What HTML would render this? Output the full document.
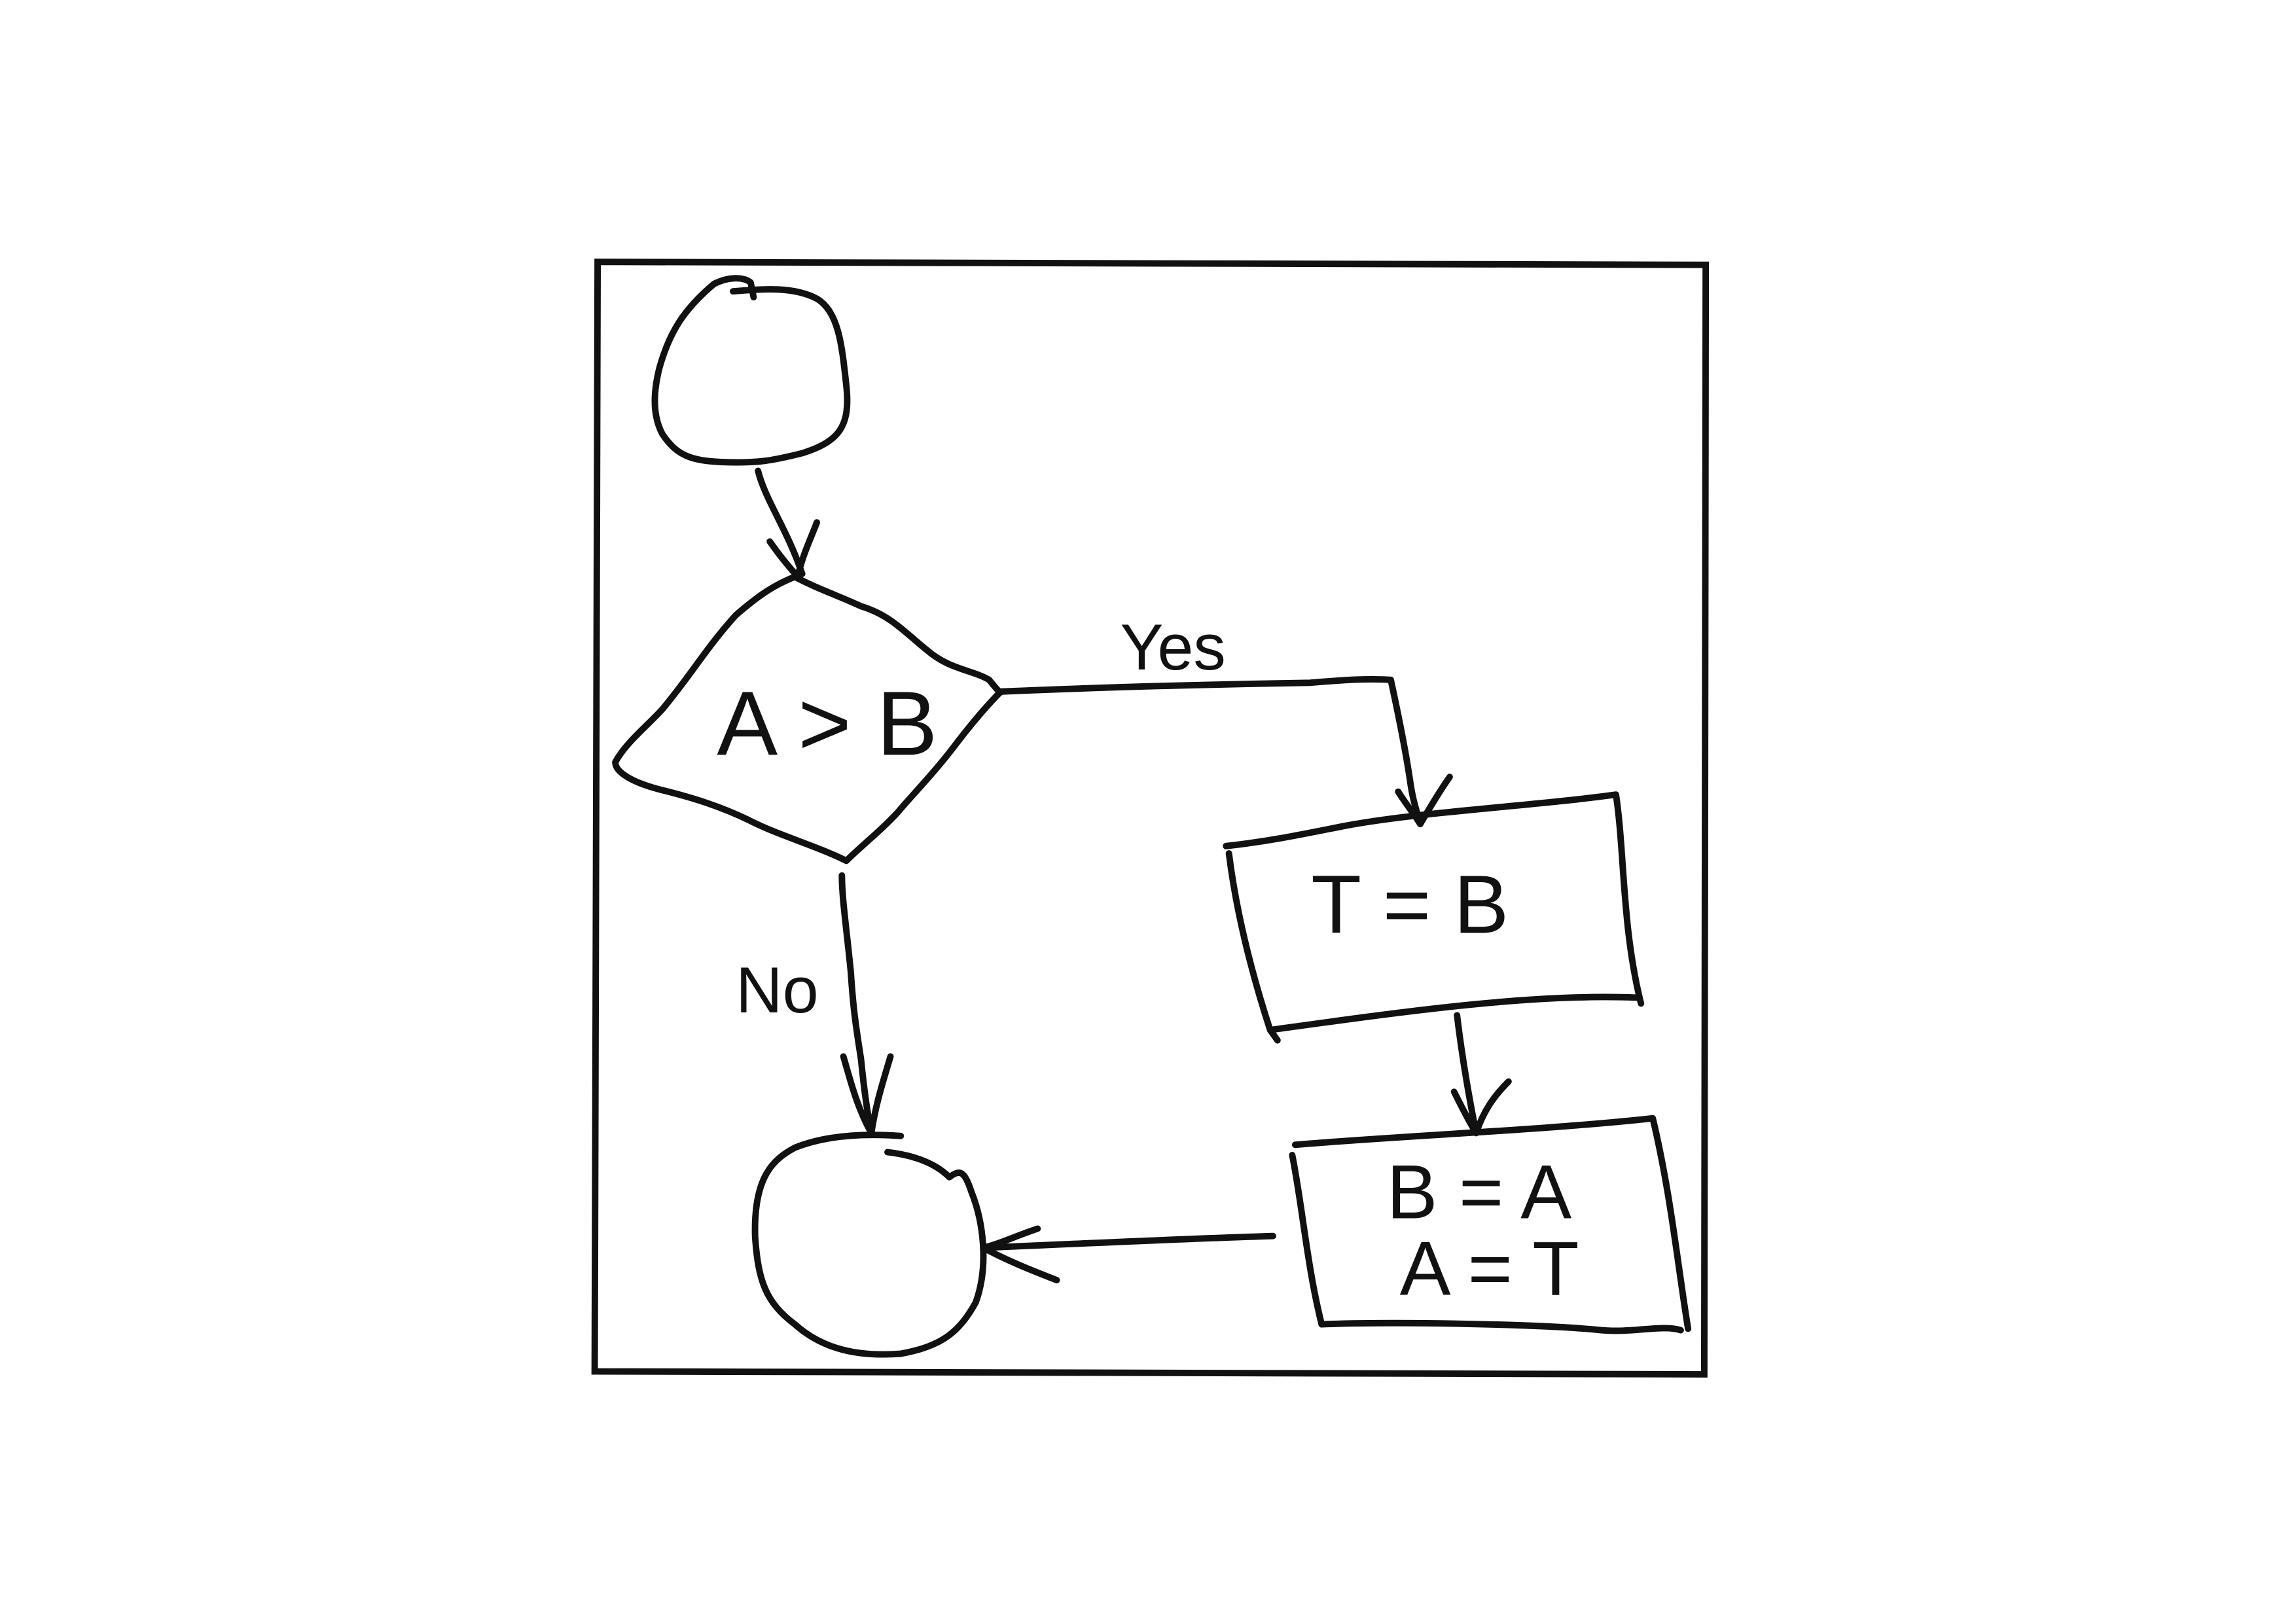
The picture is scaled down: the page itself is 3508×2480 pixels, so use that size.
<!DOCTYPE html>
<html><head><meta charset="utf-8"><style>
html,body{margin:0;padding:0;background:#fff;}
svg{display:block;}
text{font-family:"Liberation Sans",sans-serif;fill:#111;}
</style></head><body>
<svg width="3508" height="2480" viewBox="0 0 1560 1103" xmlns="http://www.w3.org/2000/svg">
<g fill="none" stroke="#111" stroke-width="4.4" stroke-linecap="round" stroke-linejoin="round">
<path d="M406 178 L1159 180 L1158 934 L404 932 Z" stroke-linecap="square" stroke-linejoin="miter"/>
<path d="M498 198 C520 196 540 195 555 203 C570 212 572 235 575 262 C578 290 570 300 545 308 C525 313 515 315 490 314 C470 313 460 310 450 295 C442 280 445 262 448 250 C455 225 465 210 485 193 C495 188 505 188 510 192 L512 202"/>
<path d="M515 320 C520 340 535 360 545 390"/>
<path d="M523 368 C530 378 535 384 542 392 C545 378 550 368 555 355"/>
<path d="M540 392 C555 400 570 405 585 412 C605 418 615 430 630 442 C645 455 660 455 672 462 C677 468 680 472 680 470 C670 480 660 492 650 505 C635 525 620 540 610 552 C598 565 585 575 575 585 C555 575 530 568 510 558 C490 548 470 542 450 537 C430 532 418 525 418 518 C425 505 438 495 450 482 C470 458 480 440 500 418 C515 405 525 398 540 392 Z"/>
<path d="M680 470 C750 467 830 465 890 464 C915 462 930 461 945 462 C950 485 955 510 958 530 C960 545 963 552 965 560"/>
<path d="M950 538 C955 546 960 552 965 560 C972 548 978 538 985 528"/>
<path d="M833 575 C860 572 880 568 910 562 C960 552 1040 548 1098 540 C1104 580 1102 630 1115 682"/>
<path d="M835 580 C840 620 850 660 863 700 C950 688 1040 675 1112 678"/>
<path d="M863 700 L868 707"/>
<path d="M990 690 C993 715 998 745 1003 770"/>
<path d="M988 742 C993 752 998 762 1003 770 C1008 755 1015 745 1025 735"/>
<path d="M880 778 C950 772 1050 768 1123 760 C1135 810 1140 860 1147 903"/>
<path d="M878 785 C885 820 888 860 898 900"/>
<path d="M898 900 C950 898 1050 900 1088 904 C1110 906 1130 900 1142 904"/>
<path d="M865 840 C800 842 740 845 668 848"/>
<path d="M705 835 C690 840 680 845 668 848 C685 857 700 863 718 870"/>
<path d="M572 595 C572 610 575 630 578 660 C580 690 582 700 585 720 C587 740 589 755 592 770"/>
<path d="M573 718 C578 735 582 752 592 770 C595 750 600 735 605 718"/>
<path d="M603 783 C620 785 635 790 645 800 C652 795 655 795 660 810 C668 830 672 860 663 885 C652 905 640 915 612 920 C585 922 560 918 540 900 C520 885 515 870 513 840 C512 800 525 788 540 780 C560 772 585 770 612 772"/>
</g>
<g text-anchor="middle">
<text x="562" y="513" font-size="62">A &gt; B</text>
<text x="958" y="634" font-size="56">T = B</text>
<text x="1005" y="828" font-size="52">B = A</text>
<text x="1012" y="880" font-size="52">A = T</text>
<text x="797" y="455" font-size="44">Yes</text>
<text x="528" y="688" font-size="44">No</text>
</g>
</svg>
</body></html>
